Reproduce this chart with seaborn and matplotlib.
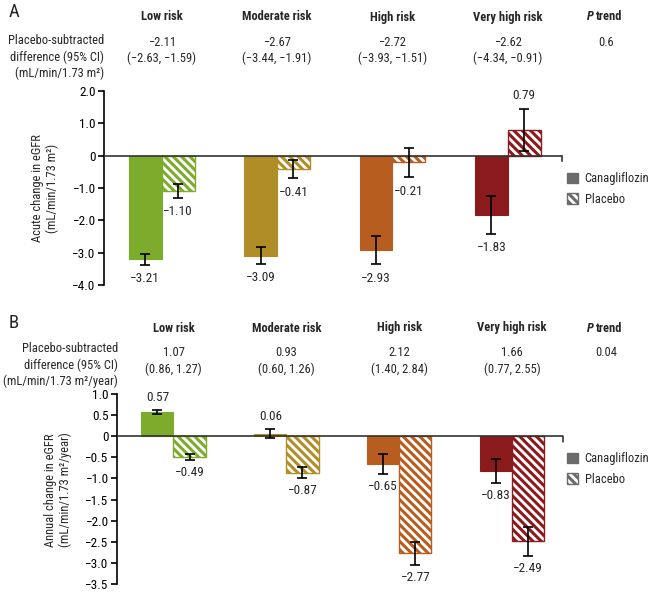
import matplotlib
matplotlib.use("Agg")
import matplotlib.pyplot as plt
import matplotlib.transforms as mtransforms
from matplotlib import font_manager
from matplotlib.patches import Patch
import seaborn as sns
import pandas as pd

# ---- data ---------------------------------------------------------------
risk_groups = ["Low risk", "Moderate risk", "High risk", "Very high risk"]
arms = ["Canagliflozin", "Placebo"]
group_colors = ["#7dab2b", "#b08d26", "#b65d1f", "#8b1a1d"]

# Panel A: acute change in eGFR (mL/min/1.73 m²)
acute_cana = [-3.21, -3.09, -2.93, -1.83]
acute_cana_err = [0.17, 0.25, 0.43, 0.59]
acute_plac = [-1.10, -0.41, -0.21, 0.79]
acute_plac_err = [0.21, 0.29, 0.46, 0.65]
acute_diff = [-2.11, -2.67, -2.72, -2.62]
acute_diff_lo = [-2.63, -3.44, -3.93, -4.34]
acute_diff_hi = [-1.59, -1.91, -1.51, -0.91]
acute_p_trend = "0.6"
acute_yticks = [2.0, 1.0, 0, -1.0, -2.0, -3.0, -4.0]
acute_yticklabels = ["2.0", "1.0", "0", "−1.0", "−2.0", "−3.0", "−4.0"]

# Panel B: annual change in eGFR (mL/min/1.73 m²/year)
annual_cana = [0.57, 0.06, -0.65, -0.83]
annual_cana_err = [0.05, 0.10, 0.24, 0.28]
annual_plac = [-0.49, -0.87, -2.77, -2.49]
annual_plac_err = [0.08, 0.13, 0.27, 0.35]
annual_diff = [1.07, 0.93, 2.12, 1.66]
annual_diff_lo = [0.86, 0.60, 1.40, 0.77]
annual_diff_hi = [1.27, 1.26, 2.84, 2.55]
annual_p_trend = "0.04"
annual_yticks = [1.0, 0.5, 0, -0.5, -1.0, -1.5, -2.0, -2.5, -3.0, -3.5]
annual_yticklabels = ["1.0", "0.5", "0", "−0.5", "−1.0", "−1.5", "−2.0",
                      "−2.5", "−3.0", "−3.5"]

# ---- style --------------------------------------------------------------
sns.set_style("white")
installed = {f.name for f in font_manager.fontManager.ttflist}
families = [n for n in ["Liberation Sans Narrow", "Arial Narrow",
                        "Roboto Condensed", "DejaVu Sans Condensed"]
            if n in installed]
families += ["Liberation Sans", "DejaVu Sans"]
plt.rcParams["font.family"] = families
plt.rcParams["hatch.linewidth"] = 2.2
plt.rcParams["axes.unicode_minus"] = True

FS = 9
FS_NUM = 9.5
W, H = 650, 592
fig = plt.figure(figsize=(W / 100, H / 100), dpi=100)


def fx(x):
    return x / W


def fy(y):
    return 1 - y / H


def fmt(v, nd=2):
    s = f"{abs(v):.{nd}f}"
    return ("−" + s) if v < 0 else s


def draw_panel(left, right, top, bottom, ylim, xlim, cana, cana_err,
               plac, plac_err, yticks, yticklabels, label_offset):
    ax = fig.add_axes([fx(left), fy(bottom), fx(right - left),
                       (bottom - top) / H])
    df = pd.DataFrame({
        "risk": risk_groups * 2,
        "arm": [arms[0]] * 4 + [arms[1]] * 4,
        "value": list(cana) + list(plac),
    })
    sns.barplot(data=df, x="risk", y="value", hue="arm", order=risk_groups,
                hue_order=arms, width=0.57, gap=0, errorbar=None,
                legend=False, saturation=1, ax=ax)

    values = {arms[0]: (cana, cana_err), arms[1]: (plac, plac_err)}
    for container, arm in zip(ax.containers, arms):
        vals, errs = values[arm]
        xs = []
        for patch, color in zip(container.patches, group_colors):
            if arm == arms[0]:
                patch.set_facecolor(color)
                patch.set_edgecolor(color)
                patch.set_linewidth(0.8)
            else:
                patch.set_facecolor("white")
                patch.set_edgecolor(color)
                patch.set_hatch("\\\\\\\\")
                patch.set_linewidth(1.0)
                if hasattr(patch, "set_hatchcolor"):
                    patch.set_hatchcolor(color)
            xs.append(patch.get_x() + patch.get_width() / 2)
        ax.errorbar(xs, vals, yerr=errs, fmt="none", ecolor="black",
                    elinewidth=1.2, capsize=3.3, capthick=1.2, zorder=5)
        for x, v, e in zip(xs, vals, errs):
            if v >= 0:
                ax.annotate(fmt(v), (x, v + e), xytext=(0, label_offset),
                            textcoords="offset points", ha="center",
                            va="center", fontsize=FS_NUM)
            else:
                ax.annotate(fmt(v), (x, v - e), xytext=(0, -label_offset),
                            textcoords="offset points", ha="center",
                            va="center", fontsize=FS_NUM)

    ax.set_xlim(*xlim)
    ax.set_ylim(*ylim)
    ax.axhline(0, color="#333333", lw=1.2, zorder=4)
    # small end mark on the zero line
    ax.annotate("", xy=(xlim[1], 0), xytext=(0, -4),
                textcoords="offset points",
                arrowprops=dict(arrowstyle="-", color="#333333", lw=1.2,
                                shrinkA=0, shrinkB=0))
    for side in ["top", "right", "bottom"]:
        ax.spines[side].set_visible(False)
    ax.spines["left"].set_color("black")
    ax.spines["left"].set_linewidth(1.2)
    ax.set_yticks(yticks)
    ax.set_yticklabels(yticklabels, fontsize=FS_NUM)
    ax.set_xticks([])
    ax.set_xlabel("")
    ax.set_ylabel("")
    ax.tick_params(axis="y", direction="out", length=4, width=1.2,
                   left=True, pad=2, colors="black")
    return ax


axA = draw_panel(104, 562, 91, 285, (-4.0, 2.0), (-0.5, 3.47),
                 acute_cana, acute_cana_err, acute_plac, acute_plac_err,
                 acute_yticks, acute_yticklabels, 10)
axB = draw_panel(117, 563, 394, 584, (-3.5, 1.0), (-0.5, 3.45),
                 annual_cana, annual_cana_err, annual_plac, annual_plac_err,
                 annual_yticks, annual_yticklabels, 9)


def header(ax, letter, y_top, unit_lines, text_right, unit_start, diff, lo,
           hi, p):
    fig.text(fx(9), fy(y_top - 5), letter, fontsize=13.5, ha="left",
             va="center")
    tr = mtransforms.blended_transform_factory(ax.transData, fig.transFigure)
    for i, name in enumerate(risk_groups):
        fig.text(i, fy(y_top), name, transform=tr, ha="center", va="center",
                 fontsize=FS, fontweight="bold")
        fig.text(i, fy(y_top + 25), fmt(diff[i]), transform=tr,
                 ha="center", va="center", fontsize=FS)
        fig.text(i, fy(y_top + 41), f"({fmt(lo[i])}, {fmt(hi[i])})",
                 transform=tr, ha="center", va="center", fontsize=FS)
    fig.text(fx(594), fy(y_top), "P", ha="right", va="center", fontsize=FS,
             fontweight="bold", fontstyle="italic")
    fig.text(fx(596), fy(y_top), "trend", ha="left", va="center",
             fontsize=FS, fontweight="bold")
    fig.text(fx(606), fy(y_top + 25), p, ha="center", va="center",
             fontsize=FS)
    for k, line in enumerate(unit_lines):
        fig.text(fx(text_right), fy(y_top + unit_start + 16 * k), line,
                 ha="right", va="center", fontsize=FS)


header(axA, "A", 17, ["Placebo-subtracted", "difference (95% CI)",
                      "(mL/min/1.73 m²)"], 104, 24,
       acute_diff, acute_diff_lo, acute_diff_hi, acute_p_trend)
header(axB, "B", 328, ["Placebo-subtracted", "difference (95% CI)",
                       "(mL/min/1.73 m²/year)"], 118, 21,
       annual_diff, annual_diff_lo, annual_diff_hi, annual_p_trend)

# y-axis titles
fig.text(fx(45), fy(188), "Acute change in eGFR\n(mL/min/1.73 m²)",
         rotation=90, ha="center", va="center", fontsize=FS,
         multialignment="center", linespacing=1.2)
fig.text(fx(58), fy(490), "Annual change in eGFR\n(mL/min/1.73 m²/year)",
         rotation=90, ha="center", va="center", fontsize=FS,
         multialignment="center", linespacing=1.2)

# legends
handles = [Patch(facecolor="#6b6b6b", edgecolor="#6b6b6b"),
           Patch(facecolor="white", edgecolor="#6b6b6b", hatch="\\\\\\\\",
                 linewidth=1.0)]
for ycen in (189, 469):
    fig.legend(handles, arms, loc="center left",
               bbox_to_anchor=(fx(567), fy(ycen)), frameon=False,
               fontsize=FS, handlelength=0.9, handleheight=0.9,
               handletextpad=0.5, labelspacing=0.6, borderpad=0,
               borderaxespad=0)

fig.savefig("out.png", dpi=100)
